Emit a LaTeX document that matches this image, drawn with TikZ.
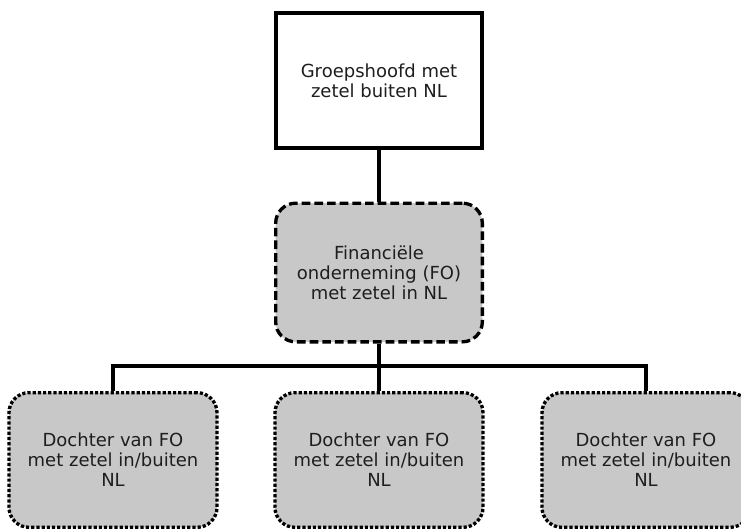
\documentclass[tikz,border=0pt]{standalone}
\usepackage{fontspec}
\setmainfont{DejaVu Sans}
\usepackage{tikz}
\usetikzlibrary{backgrounds}

\definecolor{boxgray}{RGB}{200,200,200}
\definecolor{textgray}{RGB}{30,30,30}

\tikzset{
  orgbox/.style={draw=black, line width=2.5pt, align=center, text=textgray,
    font=\fontsize{13.5}{15}\selectfont, inner sep=0pt},
  hoofdbox/.style={orgbox, minimum width=154.5pt, minimum height=101pt},
  fobox/.style={orgbox, fill=boxgray, rounded corners=15pt, dash pattern=on 6.5pt off 3pt,
    minimum width=155pt, minimum height=104pt},
  dochterbox/.style={orgbox, fill=boxgray, rounded corners=15pt, dash pattern=on 2.4pt off 1.5pt,
    minimum width=156pt, minimum height=101pt},
  tak/.style={line width=3.4pt, line join=miter}
}

\begin{document}
\begin{tikzpicture}[x=0.75pt,y=0.75pt,yscale=-1,xscale=1]
\useasboundingbox (0,0) rectangle (741,528);

%Shape: Rectangle [groepshoofd]
\node [hoofdbox] (groep) at (379,80.5) {Groepshoofd met\\zetel buiten NL};
%Shape: Rounded Rectangle [financiele onderneming]
\node [fobox] (fo) at (379,272.5) {Financiële\\onderneming (FO)\\met zetel in NL};
%Shape: Rounded Rectangle [dochters]
\node [dochterbox] (dochterL) at (113,460) {Dochter van FO\\met zetel in/buiten\\NL};
\node [dochterbox] (dochterM) at (379,460) {Dochter van FO\\met zetel in/buiten\\NL};
\node [dochterbox] (dochterR) at (646,460) {Dochter van FO\\met zetel in/buiten\\NL};

%Straight Lines
\coordinate (bus) at (379,366);
\draw [tak] (groep.south) -- (fo.north);
\draw [tak] (fo.south) -- (bus);
\draw [tak] (dochterL.north) |- (bus) -| (dochterR.north);
\draw [tak] (bus) -- (dochterM.north);

\end{tikzpicture}
\end{document}
